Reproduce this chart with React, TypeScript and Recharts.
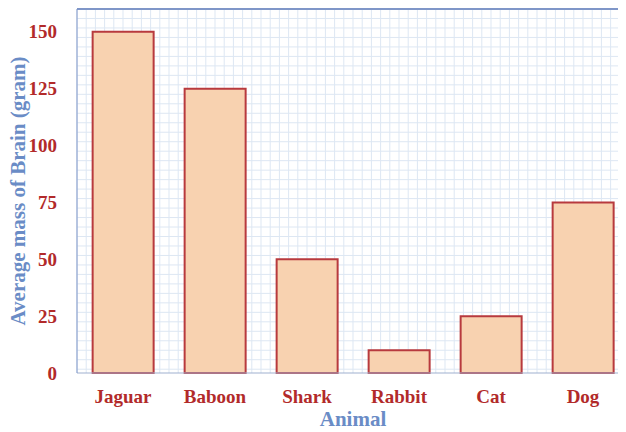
import React from "react";
import {
  Bar,
  BarChart,
  CartesianGrid,
  ReferenceLine,
  XAxis,
  YAxis,
} from "recharts";

const animals = ["Jaguar", "Baboon", "Shark", "Rabbit", "Cat", "Dog"];
const brainMass = [150, 125, 50, 10, 25, 75];
const yTicks = [0, 25, 50, 75, 100, 125, 150];

const data = animals.map((name, i) => ({ name, mass: brainMass[i] }));

const tickStyle = {
  fill: "#b22a2a",
  fontFamily: "'Liberation Serif', 'DejaVu Serif', serif",
  fontWeight: 700,
  fontSize: 19,
};

const titleStyle = {
  fill: "#6a8cc6",
  fontFamily: "'Liberation Serif', 'DejaVu Serif', serif",
  fontWeight: 700,
  fontSize: 21,
};

// fine graph-paper grid across the plot area
const gridLines = (start: number, size: number, step: number) => {
  const out: number[] = [];
  for (let p = start; p <= start + size + 0.5; p += step) out.push(p);
  return out;
};

const App = () => {
  return (
    <div
      style={{
        margin: "-8px 0 0 -8px",
        width: 626,
        height: 432,
        overflow: "hidden",
        background: "#fff",
      }}
    >
      <BarChart
        width={640}
        height={432}
        data={data}
        margin={{ top: 9, right: 11, left: 0, bottom: 0 }}
        barCategoryGap="17%"
      >
        <CartesianGrid
          stroke="#dde7f3"
          strokeWidth={1}
          horizontalCoordinatesGenerator={({ offset }: any) =>
            gridLines(offset.top, offset.height, offset.height / 38.4)
          }
          verticalCoordinatesGenerator={({ offset }: any) =>
            gridLines(offset.left, offset.width, offset.width / 60)
          }
        />
        <XAxis
          dataKey="name"
          height={59}
          tickLine={false}
          tickMargin={11}
          stroke="#9fb0cf"
          tick={tickStyle}
          label={{
            value: "Animal",
            position: "insideBottom",
            offset: 6,
            style: titleStyle,
          }}
        />
        <YAxis
          width={77}
          domain={[0, 160]}
          ticks={yTicks}
          tickLine={false}
          tickMargin={14}
          stroke="#7f96c8"
          tick={tickStyle}
          label={{
            value: "Average mass of Brain (gram)",
            angle: -90,
            position: "insideLeft",
            offset: 18,
            style: { ...titleStyle, textAnchor: "middle" },
          }}
        />
        <ReferenceLine y={160} stroke="#7f96c8" strokeWidth={2} />
        <Bar
          dataKey="mass"
          fill="#f8d2b0"
          stroke="#b83a3e"
          strokeWidth={2}
          isAnimationActive={false}
        />
      </BarChart>
    </div>
  );
};

export default App;
